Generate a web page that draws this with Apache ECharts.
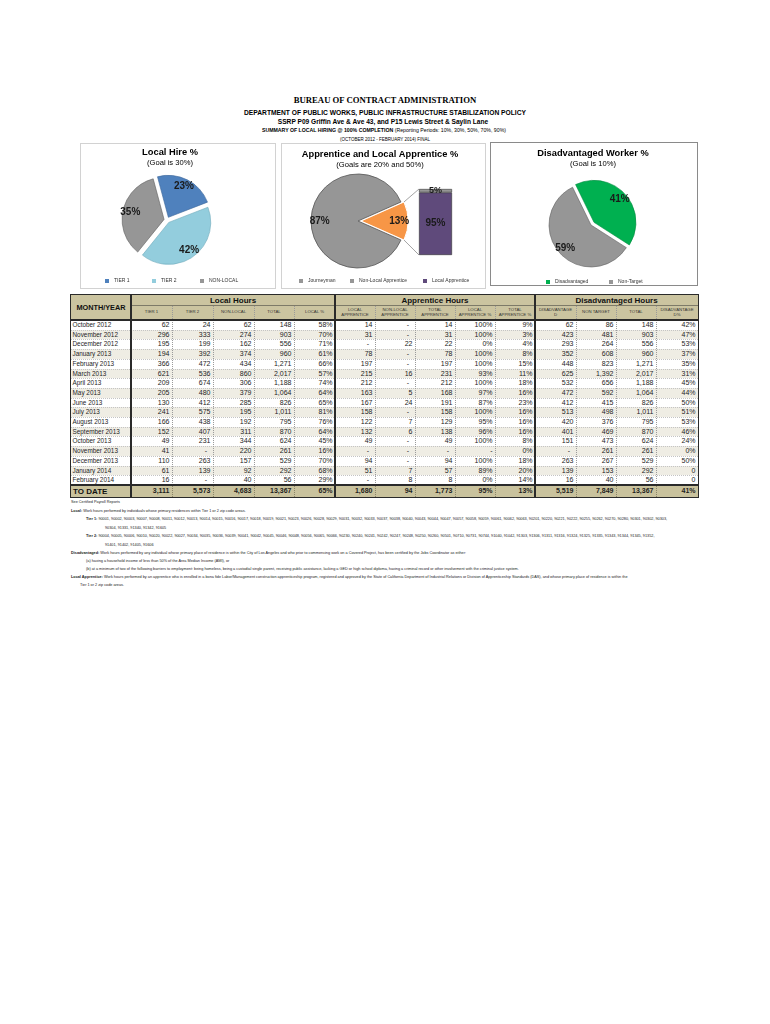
<!DOCTYPE html>
<html>
<head>
<meta charset="utf-8">
<title>Summary of Local Hiring</title>
<script src="https://cdn.jsdelivr.net/npm/echarts@6/dist/echarts.min.js"></script>
<style>
html,body{margin:0;padding:0;background:#fff;}
#page{position:relative;width:770px;height:1024px;overflow:hidden;font-family:"Liberation Sans",Arial,sans-serif;color:#000;}
.t{position:absolute;white-space:nowrap;line-height:1;color:#000;}
.ctr{transform:translate(-50%,-50%);}
.panel{position:absolute;box-sizing:border-box;border:1px solid #d2d2d2;background:#fff;}
#chart{position:absolute;left:0;top:0;width:770px;height:300px;z-index:2;}
.c{position:absolute;box-sizing:border-box;white-space:nowrap;}
.num{text-align:right;padding-right:2.5px;font-size:7px;color:#1e1e1e;}
.mon{text-align:left;padding-left:1.5px;font-size:6.4px;color:#1e1e1e;}
.hd{display:flex;align-items:center;justify-content:center;text-align:center;font-size:4.3px;line-height:1.15;color:#333;}
.grp{display:flex;align-items:center;justify-content:center;font-size:8px;font-weight:bold;color:#111;}
.ln{position:absolute;box-sizing:border-box;}
.fn{position:absolute;white-space:nowrap;font-size:3.8px;line-height:1;color:#222;}
</style>
</head>
<body>
<div id="page">
  <div class="panel" style="left:80px;top:143px;width:196px;height:146px;"></div>
  <div class="panel" style="left:281px;top:143px;width:205px;height:146px;"></div>
  <div class="panel" style="left:490px;top:142px;width:208px;height:144px;border-color:#8a8a8a;"></div>
  <div id="chart"></div>
</div>
<script>
// ---------------- DATA ----------------
const months = ["October 2012","November 2012","December 2012","January 2013","February 2013","March 2013","April 2013","May 2013","June 2013","July 2013","August 2013","September 2013","October 2013","November 2013","December 2013","January 2014","February 2014"];
const tier1 = [62,296,195,194,366,621,209,205,130,241,166,152,49,41,110,61,16];
const tier2 = [24,333,199,392,472,536,674,480,412,575,438,407,231,null,263,139,null];
const nonLocal = [62,274,162,374,434,860,306,379,285,195,192,311,344,220,157,92,40];
const totalHours = [148,903,556,960,1271,2017,1188,1064,826,1011,795,870,624,261,529,292,56];
const localPct = ["58%","70%","71%","61%","66%","57%","74%","64%","65%","81%","76%","64%","45%","16%","70%","68%","29%"];
const localApprentice = [14,31,null,78,197,215,212,163,167,158,122,132,49,null,94,51,null];
const nonLocalApprentice = [null,null,22,null,null,16,null,5,24,null,7,6,null,null,null,7,8];
const totalApprentice = [14,31,22,78,197,231,212,168,191,158,129,138,49,null,94,57,8];
const localApprenticePct = ["100%","100%","0%","100%","100%","93%","100%","97%","87%","100%","95%","96%","100%","-","100%","89%","0%"];
const totalApprenticePct = ["9%","3%","4%","8%","15%","11%","18%","16%","23%","16%","16%","16%","8%","0%","18%","20%","14%"];
const disadvantaged = [62,423,293,352,448,625,532,472,412,513,420,401,151,null,263,139,16];
const nonTarget = [86,481,264,608,823,1392,656,592,415,498,376,469,473,261,267,153,40];
const disadvantagedTotal = [148,903,556,960,1271,2017,1188,1064,826,1011,795,870,624,261,529,292,56];
const disadvantagedPct = ["42%","47%","53%","37%","35%","31%","45%","44%","50%","51%","53%","46%","24%","0%","50%","0","0"];
const toDateRow = ["3,111","5,573","4,683","13,367","65%","1,680","94","1,773","95%","13%","5,519","7,849","13,367","41%"];
const groupHeaders = ["Local Hours","Apprentice Hours","Disadvantaged Hours"];
const subHeaders = ["TIER 1","TIER 2","NON-LOCAL","TOTAL","LOCAL %","LOCAL<br>APPRENTICE","NON-LOCAL<br>APPRENTICE","TOTAL<br>APPRENTICE","LOCAL<br>APPRENTICE %","TOTAL<br>APPRENTICE %","DISADVANTAGE<br>D","NON TARGET","TOTAL","DISADVANTAGE<br>D%"];

const localHireNames = ["TIER 1","TIER 2","NON-LOCAL"];
const localHireHours = [3111,5573,4683];
const apprenticeNames = ["Apprentice","Journeyman"];
const apprenticeHours = [1773,11594];
const apprenticeSplitNames = ["Local Apprentice","Non-Local Apprentice"];
const apprenticeSplitHours = [1680,94];
const disadvNames = ["Disadvantaged","Non-Target"];
const disadvHours = [5519,7849];

const chartTitles = ["Local Hire %","Apprentice and Local Apprentice %","Disadvantaged Worker %"];
const chartSubtitles = ["(Goal is 30%)","(Goals are 20% and 50%)","(Goal is 10%)"];

const headerLines = ["BUREAU OF CONTRACT ADMINISTRATION","DEPARTMENT OF PUBLIC WORKS, PUBLIC INFRASTRUCTURE STABILIZATION POLICY","SSRP P09 Griffin Ave &amp; Ave 43, and P15 Lewis Street &amp; Saylin Lane","<b>SUMMARY OF LOCAL HIRING @ 100% COMPLETION</b> (Reporting Periods: 10%, 30%, 50%, 70%, 90%)","(OCTOBER 2012 - FEBRUARY 2014) FINAL"];

const tier1Zips = "90001, 90002, 90003, 90007, 90008, 90011, 90012, 90013, 90014, 90015, 90016, 90017, 90018, 90019, 90021, 90023, 90026, 90028, 90029, 90031, 90032, 90033, 90037, 90038, 90040, 90043, 90044, 90047, 90057, 90058, 90059, 90061, 90062, 90063, 90201, 90220, 90221, 90222, 90255, 90262, 90270, 90280, 90301, 90302, 90303,";
const tier1ZipsCont = "90304, 91331, 91340, 91342, 91605";
const tier2Zips = "90004, 90005, 90006, 90010, 90020, 90022, 90027, 90034, 90035, 90036, 90039, 90041, 90042, 90045, 90046, 90048, 90056, 90065, 90066, 90230, 90240, 90241, 90242, 90247, 90248, 90250, 90260, 90501, 90710, 90731, 90744, 91040, 91042, 91303, 91306, 91311, 91316, 91324, 91325, 91335, 91343, 91344, 91345, 91352,";
const tier2ZipsCont = "91401, 91402, 91405, 91606";

// ---------------- PAGE TEXT ----------------
const page = document.getElementById('page');
function el(cls, css, html){ const d=document.createElement('div'); d.className=cls; d.style.cssText=css; d.innerHTML=html; page.appendChild(d); return d; }

el('t ctr', 'left:385px;top:100px;font-family:"Liberation Serif",serif;font-weight:bold;font-size:8.7px;', headerLines[0]);
el('t ctr', 'left:385px;top:112.5px;font-weight:bold;font-size:6.7px;', headerLines[1]);
el('t ctr', 'left:383px;top:122px;font-weight:bold;font-size:6.6px;', headerLines[2]);
el('t ctr', 'left:384px;top:131px;font-size:5.2px;', headerLines[3]);
el('t ctr', 'left:385px;top:139.5px;font-size:4.5px;', headerLines[4]);

// ---------------- TABLE ----------------
const colX = [71,131,172,213,254,294,335,375,415,455,495,535,576,616,656,698];
const T0 = 295, T1 = 305, T2 = 320, RH = 9.7, NR = months.length;
const TD = T2 + NR*RH, TDH = 12.5, TW = colX[colX.length-1]-colX[0];
const fmt = v => v == null ? '-' : v.toLocaleString('en-US');

// backgrounds
el('ln', `left:${colX[0]}px;top:${T0}px;width:${TW}px;height:${T2-T0}px;background:#cbc4a0;`, '');
for (let i=0;i<NR;i++) if (i%2===1) el('ln', `left:${colX[0]}px;top:${T2+i*RH}px;width:${TW}px;height:${RH}px;background:#efede4;`, '');
el('ln', `left:${colX[0]}px;top:${TD}px;width:${TW}px;height:${TDH}px;background:#c9c29d;`, '');

// header cells
el('c grp', `left:${colX[0]}px;top:${T0}px;width:${colX[1]-colX[0]}px;height:${T2-T0}px;font-size:7.3px;`, 'MONTH/YEAR');
const groupSpans = [[1,6],[6,11],[11,15]];
groupSpans.forEach((g,k)=> el('c grp', `left:${colX[g[0]]}px;top:${T0}px;width:${colX[g[1]]-colX[g[0]]}px;height:${T1-T0}px;`, groupHeaders[k]));
subHeaders.forEach((h,k)=> el('c hd', `left:${colX[k+1]}px;top:${T1}px;width:${colX[k+2]-colX[k+1]}px;height:${T2-T1}px;`, h));

// data rows
for (let i=0;i<NR;i++){
  const y = T2 + i*RH;
  const vals = [fmt(tier1[i]),fmt(tier2[i]),fmt(nonLocal[i]),fmt(totalHours[i]),localPct[i],
                fmt(localApprentice[i]),fmt(nonLocalApprentice[i]),fmt(totalApprentice[i]),localApprenticePct[i],totalApprenticePct[i],
                fmt(disadvantaged[i]),fmt(nonTarget[i]),fmt(disadvantagedTotal[i]),disadvantagedPct[i]];
  el('c mon', `left:${colX[0]}px;top:${y}px;width:${colX[1]-colX[0]}px;height:${RH}px;line-height:${RH}px;`, months[i]);
  vals.forEach((v,k)=>{
    const isDash = v === '-' && ![4,8,9,13].includes(k);
    el('c num', `left:${colX[k+1]}px;top:${y}px;width:${colX[k+2]-colX[k+1]}px;height:${RH}px;line-height:${RH}px;${isDash?'padding-right:6px;':''}`, v);
  });
}
// to date row
el('c grp', `left:${colX[0]}px;top:${TD}px;width:${colX[1]-colX[0]}px;height:${TDH}px;justify-content:flex-start;padding-left:2px;font-size:8px;`, 'TO DATE');
toDateRow.forEach((v,k)=> el('c num', `left:${colX[k+1]}px;top:${TD}px;width:${colX[k+2]-colX[k+1]}px;height:${TDH}px;line-height:${TDH}px;font-weight:bold;`, v));

// grid lines
for (let i=1;i<NR;i++) el('ln', `left:${colX[0]}px;top:${T2+i*RH}px;width:${TW}px;height:0;border-top:1px dotted #c4c4c4;`, '');
[2,3,4,5,7,8,9,10,12,13,14].forEach(k=> el('ln', `left:${colX[k]}px;top:${T1}px;width:0;height:${TD-T1}px;border-left:1px dotted #9a9a9a;`, ''));
[2,3,4,5,7,8,9,10,12,13,14].forEach(k=> el('ln', `left:${colX[k]}px;top:${TD}px;width:0;height:${TDH}px;border-left:1px dotted #8a8468;`, ''));
el('ln', `left:${colX[1]}px;top:${T1}px;width:${colX[15]-colX[1]}px;height:0;border-top:1px solid #7d7a68;`, '');
el('ln', `left:${colX[0]}px;top:${T2-0.75}px;width:${TW}px;height:1.5px;background:#2a2a2a;`, '');
el('ln', `left:${colX[0]}px;top:${TD-0.75}px;width:${TW}px;height:1.5px;background:#2a2a2a;`, '');
[1,6,11].forEach(k=> el('ln', `left:${colX[k]-0.75}px;top:${T0}px;width:1.5px;height:${TD+TDH-T0}px;background:#2a2a2a;`, ''));
el('ln', `left:${colX[0]-0.75}px;top:${T0-0.75}px;width:${TW+1.5}px;height:${TD+TDH-T0+1.5}px;border:1.5px solid #2a2a2a;`, '');

// ---------------- FOOTNOTES ----------------
const fnotes = [
  [71,503,"See Certified Payroll Reports"],
  [71,511.5,"<b>Local:</b> Work hours performed by individuals whose primary residences within Tier 1 or 2 zip code areas."],
  [86,520,"<b>Tier 1:</b> "+tier1Zips],
  [105,528.5,tier1ZipsCont],
  [86,537,"<b>Tier 2:</b> "+tier2Zips],
  [105,545.5,tier2ZipsCont],
  [71,553.5,"<b>Disadvantaged:</b> Work hours performed by any individual whose primary place of residence is within the City of Los Angeles and who prior to commencing work on a Covered Project, has been certified by the Jobs Coordinator as either:"],
  [86,561.5,"(a) having a household income of less than 50% of the Area Median Income (AMI), or"],
  [86,569.5,"(b) at a minimum of two of the following barriers to employment: being homeless, being a custodial single parent, receiving public assistance, lacking a GED or high school diploma, having a criminal record or other involvement with the criminal justice system."],
  [71,577.5,"<b>Local Apprentice:</b> Work hours performed by an apprentice who is enrolled in a bona fide Labor/Management construction apprenticeship program, registered and approved by the State of California Department of Industrial Relations or Division of Apprenticeship Standards (DAS), and whose primary place of residence is within the"],
  [80,585.5,"Tier 1 or 2 zip code areas."]
];
fnotes.forEach(f=> el('fn', `left:${f[0]}px;top:${f[1]-2}px;`, f[2]));

// ---------------- CHARTS ----------------
const FONT = '"Liberation Sans", Arial, sans-serif';
const chart = echarts.init(document.getElementById('chart'), null, {renderer:'canvas'});
const pct = p => Math.round(p.percent) + '%';
function slices(names, vals, colors, sel, borders, bw){
  return names.map((n,i)=>({name:n, value:vals[i], selected:!!sel[i], itemStyle:{color:colors[i], borderColor:borders[i], borderWidth:bw[i]}}));
}
const apSum = apprenticeHours[0] + apprenticeHours[1];
const P1 = {c:[167,220], r:42, start:105, off:3};
const P2 = {c:[358,221], r:47, start:360*apprenticeHours[0]/apSum/2, off:3};
const P3 = {c:[591,225], r:42, start:116, off:4};

const d1 = slices(localHireNames, localHireHours, ['#4f81bd','#93cddd','#969696'], [1,1,1], ['#3d6799','#6fa9ba','#5e5e5e'], [0.6,0.6,0.6]);
const d2 = slices(apprenticeNames, apprenticeHours, ['#f79646','#969696'], [1,0], ['#ffffff','#555555'], [1,0.8]);
const d3 = slices(disadvNames, disadvHours, ['#00b050','#969696'], [1,0], ['#008a3e','#5e5e5e'], [0.6,0.6]);

function pieMain(p, data){
  return {type:'pie', center:p.c, radius:p.r, startAngle:p.start, clockwise:true, selectedMode:'multiple', selectedOffset:p.off,
    avoidLabelOverlap:false, label:{show:false}, labelLine:{show:false}, emphasis:{disabled:true}, data};
}
function pieLabels(p, data){
  return {type:'pie', center:p.c, radius:[p.r*0.5, p.r], startAngle:p.start, clockwise:true, selectedMode:'multiple', selectedOffset:p.off,
    silent:true, legendHoverLink:false, emphasis:{disabled:true}, avoidLabelOverlap:false,
    itemStyle:{color:'rgba(0,0,0,0)', borderWidth:0},
    label:{show:true, position:'inside', formatter:pct, fontSize:10, fontWeight:'bold', color:'#1a1a1a', fontFamily:FONT},
    labelLine:{show:false},
    data:data.map(d=>({name:d.name, value:d.value, selected:d.selected}))};
}

const barSum = apprenticeSplitHours[0] + apprenticeSplitHours[1];
const BAR = {left:419, top:189, width:33, height:66};
const half = Math.PI * apprenticeHours[0] / apSum;
const tipX = P2.c[0] + P2.off + P2.r*Math.cos(half);
const tipDy = P2.r*Math.sin(half);

function legendItem(name, left, top){
  return {data:[name], left, top, padding:0, itemWidth:4, itemHeight:4, itemGap:0, icon:'rect', selectedMode:false,
    itemStyle:{borderWidth:0},
    textStyle:{fontSize:5, color:'#333', fontFamily:FONT}};
}
const titlePos = [[170,152.7,163.3],[380,154.3,165],[593,153.3,164]];
const graphics = [];
titlePos.forEach((tp,k)=>{
  graphics.push({type:'text', x:tp[0], y:tp[1], silent:true, style:{text:chartTitles[k], fill:'#000', font:`bold 9.3px ${FONT}`, align:'center', verticalAlign:'middle', textAlign:'center', textVerticalAlign:'middle'}});
  graphics.push({type:'text', x:tp[0], y:tp[2], silent:true, style:{text:chartSubtitles[k], fill:'#000', font:`7.6px ${FONT}`, align:'center', verticalAlign:'middle', textAlign:'center', textVerticalAlign:'middle'}});
});
graphics.push({type:'line', silent:true, shape:{x1:tipX, y1:P2.c[1]-tipDy, x2:BAR.left, y2:BAR.top}, style:{stroke:'#8c8c8c', lineWidth:0.8}});
graphics.push({type:'line', silent:true, shape:{x1:tipX, y1:P2.c[1]+tipDy, x2:BAR.left, y2:BAR.top+BAR.height}, style:{stroke:'#8c8c8c', lineWidth:0.8}});

chart.setOption({
  animation:false,
  textStyle:{fontFamily:FONT},
  grid:[{left:BAR.left, top:BAR.top, width:BAR.width, height:BAR.height, containLabel:false}],
  xAxis:[{type:'category', data:['Apprentice'], show:false}],
  yAxis:[{type:'value', min:0, max:barSum, show:false}],
  legend:[
    legendItem(localHireNames[0],105,278.5), legendItem(localHireNames[1],152,278.5), legendItem(localHireNames[2],200,278.5),
    legendItem(apprenticeNames[1],299,278.5), legendItem(apprenticeSplitNames[1],350,278.5), legendItem(apprenticeSplitNames[0],423,278.5),
    legendItem(disadvNames[0],546,279.5), legendItem(disadvNames[1],609,279.5)
  ],
  graphic:graphics,
  series:[
    pieMain(P1,d1), pieLabels(P1,d1),
    pieMain(P2,d2), pieLabels(P2,d2),
    pieMain(P3,d3), pieLabels(P3,d3),
    {type:'bar', name:apprenticeSplitNames[0], stack:'ap', data:[apprenticeSplitHours[0]], barWidth:'100%',
      itemStyle:{color:'#5f4a7b', borderColor:'#333', borderWidth:0.6}, emphasis:{disabled:true},
      label:{show:true, position:'inside', formatter:()=>Math.round(apprenticeSplitHours[0]/barSum*100)+'%', fontSize:10, fontWeight:'bold', color:'#1a1a1a', fontFamily:FONT}},
    {type:'bar', name:apprenticeSplitNames[1], stack:'ap', data:[apprenticeSplitHours[1]], barWidth:'100%',
      itemStyle:{color:'#969696', borderColor:'#333', borderWidth:0.6}, emphasis:{disabled:true},
      label:{show:true, position:'inside', formatter:()=>Math.round(apprenticeSplitHours[1]/barSum*100)+'%', fontSize:9, fontWeight:'bold', color:'#1a1a1a', fontFamily:FONT}}
  ]
});
</script>
</body>
</html>
